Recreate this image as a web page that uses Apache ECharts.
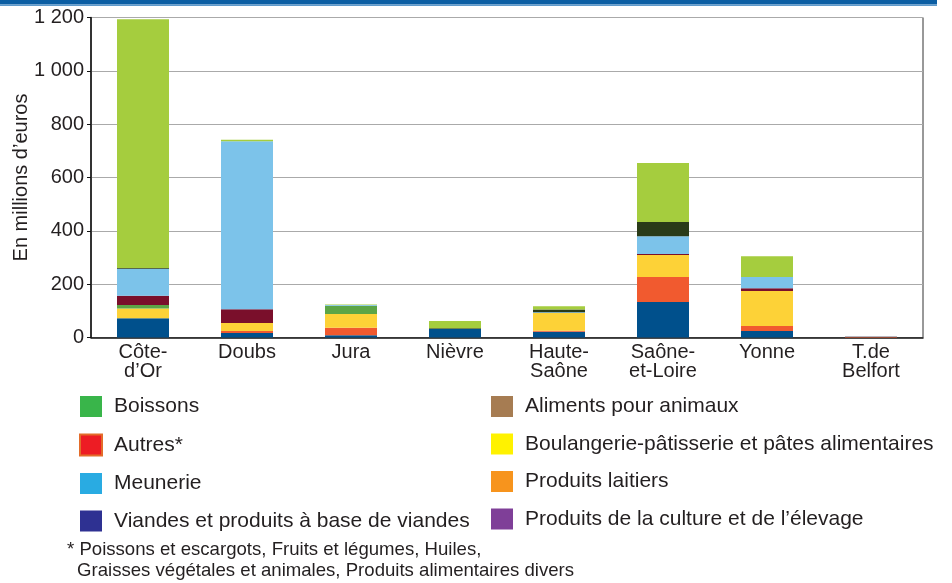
<!DOCTYPE html>
<html>
<head>
<meta charset="utf-8">
<title>Industries agroalimentaires</title>
<script src="https://cdn.jsdelivr.net/npm/echarts@6/dist/echarts.min.js"></script>
<style>
  html, body { margin: 0; padding: 0; background: #fff; }
  #chart { width: 952px; height: 583px; }
</style>
</head>
<body>
<div id="chart"></div>
<script>
  // departements
  const categories = ['Côte-\nd’Or', 'Doubs', 'Jura', 'Nièvre', 'Haute-\nSaône', 'Saône-\net-Loire', 'Yonne', 'T.de\nBelfort']

  // en millions d'euros, du bas vers le haut de la pile
  const viandes = [72, 17, 8, 32, 22, 133, 24, 0]
  const autres = [0, 7, 29, 0, 3, 94, 19, 4]
  const boulangerie = [37, 30, 51, 0, 67, 82, 131, 0]
  const aliments = [13, 0, 31, 0, 0, 0, 0, 0]
  const laitiers = [35, 52, 0, 0, 0, 4, 11, 0]
  const meunerie = [101, 630, 3, 0, 3, 67, 42, 2]
  const culture = [3, 0, 0, 3, 10, 53, 0, 0]
  const boissons = [932, 6, 2, 27, 12, 221, 78, 0]

  const yTicks = [0, 200, 400, 600, 800, 1000, 1200]

  const font = '"Liberation Sans", Arial, Helvetica, sans-serif'
  const ink = '#231f20'

  const chart = echarts.init(document.getElementById('chart'), null, { renderer: 'canvas' })

  function bar(name, data, color) {
    return {
      name: name,
      type: 'bar',
      stack: 'total',
      barWidth: 52,
      data: data,
      itemStyle: { color: color },
      emphasis: { disabled: true },
      animation: false
    }
  }

  const legendText = {
    fontFamily: font,
    fontSize: 21,
    color: ink,
    padding: [0, 0, 0, 7]
  }

  chart.setOption({
    animation: false,
    grid: {
      left: 91,
      right: 29,
      top: 17.5,
      bottom: 245.5,
      outerBoundsMode: 'none',
      containLabel: false,
      show: true,
      borderColor: '#333',
      borderWidth: 1
    },
    legend: [{
      orient: 'vertical',
      left: 79,
      top: 396,
      padding: 0,
      itemWidth: 22,
      itemHeight: 21,
      itemGap: 16.5,
      icon: 'rect',
      selectedMode: false,
      textStyle: legendText,
      data: [
        { name: 'Boissons', itemStyle: { color: '#39b54a' } },
        { name: 'Autres*', itemStyle: { color: '#ed1c24', borderColor: '#e36c2a', borderWidth: 2 } },
        { name: 'Meunerie', itemStyle: { color: '#29abe2' } },
        { name: 'Viandes et produits à base de viandes', itemStyle: { color: '#2e3192' } }
      ]
    }, {
      orient: 'vertical',
      left: 491,
      top: 396,
      padding: 0,
      itemWidth: 22,
      itemHeight: 21,
      itemGap: 16.5,
      icon: 'rect',
      selectedMode: false,
      textStyle: legendText,
      data: [
        { name: 'Aliments pour animaux', itemStyle: { color: '#a67c52' } },
        { name: 'Boulangerie-pâtisserie et pâtes alimentaires', itemStyle: { color: '#fff200' } },
        { name: 'Produits laitiers', itemStyle: { color: '#f7941d' } },
        { name: 'Produits de la culture et de l’élevage', itemStyle: { color: '#7f3f98' } }
      ]
    }],
    xAxis: {
      type: 'category',
      data: categories,
      axisLine: { lineStyle: { color: '#111', width: 1.5 } },
      axisTick: { length: 5, lineStyle: { color: '#111' } },
      axisLabel: {
        fontFamily: font,
        fontSize: 20,
        lineHeight: 19,
        color: ink,
        margin: 5,
        interval: 0
      }
    },
    yAxis: {
      type: 'value',
      min: 0,
      max: 1200,
      interval: 200,
      name: 'En millions d’euros',
      nameLocation: 'middle',
      nameGap: 60,
      nameMoveOverlap: false,
      nameTextStyle: { fontFamily: font, fontSize: 20, color: ink },
      axisLine: { show: true, lineStyle: { color: '#111', width: 1.5 } },
      axisTick: { show: true, length: 4, lineStyle: { color: '#111' } },
      splitLine: { lineStyle: { color: '#aaa', width: 1 } },
      axisLabel: {
        fontFamily: font,
        fontSize: 20,
        color: ink,
        margin: 7,
        formatter: function (v) {
          return yTicks.indexOf(v) >= 0 ? String(v).replace(/\B(?=(\d{3})+(?!\d))/g, ' ') : ''
        }
      }
    },
    graphic: [{
      type: 'rect',
      left: 0,
      top: 0,
      shape: { width: 937, height: 4.5 },
      style: { fill: '#0b5ea3' },
      silent: true
    }, {
      type: 'rect',
      left: 0,
      top: 4.5,
      shape: { width: 937, height: 1.5 },
      style: { fill: '#5f9acb' },
      silent: true
    }, {
      type: 'text',
      left: 67,
      top: 540,
      style: {
        text: '* Poissons et escargots, Fruits et légumes, Huiles,',
        font: '18.6px ' + font,
        fill: ink
      },
      silent: true
    }, {
      type: 'text',
      left: 77,
      top: 561,
      style: {
        text: 'Graisses végétales et animales, Produits alimentaires divers',
        font: '18.6px ' + font,
        fill: ink
      },
      silent: true
    }],
    series: [
      bar('Viandes et produits à base de viandes', viandes, '#00508c'),
      bar('Autres*', autres, '#f15a2f'),
      bar('Boulangerie-pâtisserie et pâtes alimentaires', boulangerie, '#fdd237'),
      bar('Aliments pour animaux', aliments, '#5ca546'),
      bar('Produits laitiers', laitiers, '#7a0f2b'),
      bar('Meunerie', meunerie, '#7cc3ea'),
      bar('Produits de la culture et de l’élevage', culture, '#2a3b18'),
      bar('Boissons', boissons, '#a5cd3e')
    ]
  })
</script>
</body>
</html>
